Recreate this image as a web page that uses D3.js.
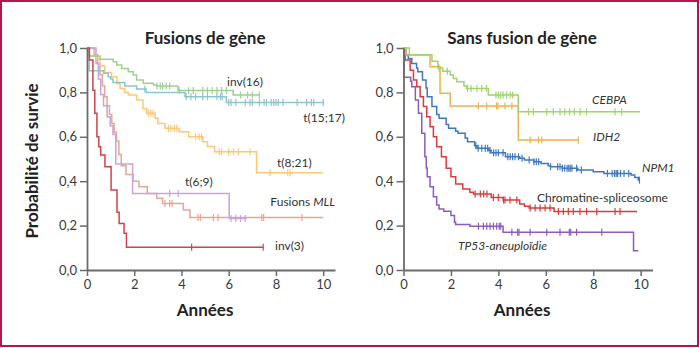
<!DOCTYPE html>
<html><head><meta charset="utf-8">
<script src="https://cdn.jsdelivr.net/npm/d3@7"></script>
<style>body{margin:0;background:#fff}svg{display:block}</style>
</head><body>
<svg id="c" width="700" height="348"></svg>
<script>
// ---------- DATA ----------
const xTicks = [0, 2, 4, 6, 8, 10];
const yTicks = [0, 0.2, 0.4, 0.6, 0.8, 1.0];
const yTickLabels = ["0,0", "0,2", "0,4", "0,6", "0,8", "1,0"];

// Left panel: Fusions de gène  (time in years, survival probability)
const inv16_t = [0, 0.06, 0.55, 1.11, 1.26, 1.47, 1.75, 1.96, 2.10, 2.38, 2.81, 2.95, 3.85, 6.19, 7.32];
const inv16_s = [1.0, 0.964, 0.949, 0.938, 0.923, 0.908, 0.893, 0.878, 0.856, 0.841, 0.833, 0.829, 0.808, 0.788, 0.788];
const inv16_c = [2.96, 3.1, 3.2, 3.35, 3.5, 3.9, 4.3, 4.5, 4.9, 5.1, 5.3, 5.5, 5.7, 5.9, 6.5, 6.8, 7.0, 7.3];

const t1517_t = [0, 0.1, 0.7, 0.9, 1.0, 1.1, 1.6, 2.1, 2.5, 4.15, 5.9, 10.05];
const t1517_s = [1.0, 0.898, 0.886, 0.871, 0.86, 0.845, 0.829, 0.815, 0.80, 0.78, 0.754, 0.754];
const t1517_c = [2.45, 4.2, 4.4, 4.6, 4.9, 5.1, 5.5, 5.65, 5.72, 6.0, 6.1, 6.3, 6.7, 6.9, 7.0, 7.3, 7.5, 7.6, 7.8, 7.9, 8.0, 8.1, 8.3, 8.9, 9.3, 9.5, 9.6, 10.0];

const t821_t = [0, 0.1, 0.4, 0.55, 0.75, 1.04, 1.26, 1.4, 1.6, 1.75, 2.1, 2.37, 2.53, 2.88, 3.0, 3.3, 3.9, 4.3, 4.9, 5.1, 5.4, 7.18, 10.0];
const t821_s = [1.0, 0.964, 0.95, 0.92, 0.89, 0.87, 0.84, 0.818, 0.80, 0.788, 0.766, 0.728, 0.706, 0.683, 0.66, 0.638, 0.623, 0.60, 0.578, 0.556, 0.533, 0.438, 0.438];
const t821_c = [2.6, 2.7, 2.8, 3.45, 3.55, 3.7, 3.8, 4.6, 4.75, 4.85, 5.6, 5.7, 6.0, 6.2, 6.4, 6.9, 7.75, 8.5, 8.6];

const mll_t = [0, 0.3, 0.45, 0.55, 0.65, 0.75, 0.85, 0.95, 1.05, 1.15, 1.25, 1.35, 1.45, 1.65, 1.95, 2.2, 2.55, 2.95, 3.2, 4.08, 4.36, 10.0];
const mll_s = [1.0, 0.97, 0.93, 0.88, 0.83, 0.78, 0.74, 0.70, 0.66, 0.62, 0.58, 0.52, 0.47, 0.43, 0.40, 0.375, 0.345, 0.323, 0.30, 0.27, 0.237, 0.237];
const mll_c = [3.3, 3.5, 3.6, 4.7, 4.8, 5.35, 5.55, 7.4, 7.48, 9.1];

const t69_t = [0, 0.38, 0.48, 0.58, 0.7, 0.85, 0.98, 1.1, 1.22, 1.93, 6.02, 6.76];
const t69_s = [1.0, 0.93, 0.86, 0.79, 0.74, 0.69, 0.65, 0.61, 0.478, 0.345, 0.232, 0.232];
const t69_c = [3.5, 3.86, 6.1, 6.3, 6.5, 6.7];

const inv3_t = [0, 0.1, 0.25, 0.33, 0.42, 0.5, 0.58, 0.76, 1.02, 1.27, 1.36, 1.57, 1.67, 7.46];
const inv3_s = [1.0, 0.946, 0.81, 0.706, 0.60, 0.555, 0.518, 0.465, 0.36, 0.26, 0.21, 0.165, 0.102, 0.102];
const inv3_c = [4.43, 7.46];

// Right panel: Sans fusion de gène
const cebpa_t = [0, 0.25, 1.2, 1.45, 1.65, 1.97, 2.1, 2.25, 2.55, 2.65, 3.58, 4.84, 9.97];
const cebpa_s = [1.0, 0.97, 0.94, 0.91, 0.895, 0.878, 0.863, 0.848, 0.829, 0.818, 0.788, 0.713, 0.713];
const cebpa_c = [1.5, 1.85, 2.7, 2.85, 3.1, 3.3, 3.5, 3.9, 4.0, 4.1, 4.2, 4.35, 4.5, 4.6, 5.27, 5.48, 6.04, 6.32, 6.6, 6.8, 7.0, 7.2, 7.45, 7.72, 8.92, 9.2];

const idh2_t = [0, 0.1, 1.12, 1.54, 1.97, 4.84, 7.37];
const idh2_s = [1.0, 0.968, 0.916, 0.796, 0.739, 0.586, 0.586];
const idh2_c = [3.16, 3.51, 3.92, 3.98, 4.28, 4.57, 5.34, 5.69, 5.83, 7.37];

const npm1_t = [0, 0.1, 0.2, 0.35, 0.55, 0.6, 0.8, 0.95, 1.0, 1.2, 1.4, 1.5, 1.8, 1.9, 2.2, 2.3, 2.6, 2.7, 3.0, 3.1, 3.6, 3.7, 4.3, 4.9, 5.1, 5.5, 5.8, 6.1, 6.2, 6.7, 7.35, 8.0, 8.45, 9.6, 9.75, 9.9, 9.95];
const npm1_s = [1.0, 0.97, 0.953, 0.93, 0.91, 0.893, 0.856, 0.82, 0.78, 0.736, 0.70, 0.683, 0.655, 0.638, 0.625, 0.616, 0.595, 0.578, 0.56, 0.548, 0.538, 0.528, 0.51, 0.503, 0.495, 0.488, 0.48, 0.47, 0.465, 0.458, 0.45, 0.443, 0.435, 0.428, 0.417, 0.405, 0.405];
const npm1_c = [3.05, 3.15, 3.3, 3.45, 3.55, 3.65, 3.8, 3.9, 4.0, 4.2, 4.4, 4.5, 4.6, 4.7, 4.85, 5.0, 5.3, 5.5, 5.6, 5.7, 6.2, 6.5, 6.6, 6.7, 6.8, 6.9, 6.97, 7.03, 7.1, 7.3, 7.5, 8.6, 8.8, 8.9, 8.97, 9.03, 9.15, 9.3, 9.5, 9.95];

const chrom_t = [0, 0.07, 0.28, 0.42, 0.56, 0.7, 0.84, 0.98, 1.12, 1.26, 1.4, 1.6, 1.8, 2.0, 2.2, 2.5, 2.8, 2.95, 3.7, 4.2, 4.9, 5.1, 5.3, 6.35, 9.85];
const chrom_s = [1.0, 0.946, 0.90, 0.856, 0.826, 0.78, 0.736, 0.69, 0.645, 0.60, 0.555, 0.51, 0.458, 0.42, 0.387, 0.365, 0.35, 0.342, 0.327, 0.315, 0.297, 0.287, 0.279, 0.264, 0.264];
const chrom_c = [3.02, 3.24, 3.38, 3.52, 3.79, 4.0, 4.22, 4.28, 4.49, 4.78, 5.34, 5.55, 5.76, 5.97, 6.18, 6.53, 6.74, 6.95, 7.16, 7.44, 7.72, 8.15, 8.92, 9.13];

const tp53_t = [0, 0.02, 0.3, 0.35, 0.5, 0.63, 0.77, 0.9, 0.96, 1.0, 1.12, 1.26, 1.4, 1.5, 1.7, 2.0, 2.15, 2.2, 2.8, 4.2, 9.7, 9.9];
const tp53_s = [1.0, 0.868, 0.85, 0.826, 0.766, 0.706, 0.616, 0.51, 0.46, 0.42, 0.375, 0.33, 0.293, 0.275, 0.265, 0.245, 0.215, 0.205, 0.197, 0.17, 0.087, 0.087];
const tp53_c = [3.16, 3.37, 3.51, 3.65, 3.79, 3.93, 4.04, 4.1, 4.57, 4.81, 4.87, 5.34, 6.04, 6.6, 6.99, 7.05, 7.3, 8.36];

// ---------- DRAW ----------
const svg = d3.select("#c");
const FONT = "Lato, 'Open Sans', sans-serif";
svg.append("rect").attr("x", 1).attr("y", 1).attr("width", 697).attr("height", 345)
  .attr("fill", "#fff").attr("stroke", "#b2174b").attr("stroke-width", 2);

const y = d3.scaleLinear().domain([0, 1]).range([270, 48]);

function panel(x0, x1, title, series, labels) {
  const x = d3.scaleLinear().domain([0, 10.5]).range([x0, x1]);
  const g = svg.append("g");
  const line = d3.line().x(d => x(d[0])).y(d => y(d[1])).curve(d3.curveStepAfter);
  series.forEach(s => {
    const pts = s.t.map((t, i) => [t, s.s[i]]);
    g.append("path").attr("d", line(pts)).attr("fill", "none")
      .attr("stroke", s.color).attr("stroke-width", 1.5);
    const survAt = t => { let v = s.s[0]; for (let i = 0; i < s.t.length; i++) if (s.t[i] <= t) v = s.s[i]; return v; };
    g.selectAll(null).data(s.c).enter().append("line")
      .attr("x1", d => x(d)).attr("x2", d => x(d))
      .attr("y1", d => y(survAt(d)) - 3.5).attr("y2", d => y(survAt(d)) + 3.5)
      .attr("stroke", s.color).attr("stroke-width", 1.2);
  });
  const ax = svg.append("g").attr("font-family", FONT);
  const ya = d3.axisLeft(y).tickValues(yTicks).tickFormat((d, i) => yTickLabels[i]).tickSize(7).tickSizeOuter(0);
  const yg = ax.append("g").attr("transform", `translate(${x0},0)`).call(ya);
  const xa = d3.axisBottom(x).tickValues(xTicks).tickSize(6).tickSizeOuter(0);
  const xg = ax.append("g").attr("transform", `translate(0,270)`).call(xa);
  [yg, xg].forEach(a => {
    a.select(".domain").attr("stroke", "#6b6b6b").attr("stroke-width", 1.8);
    a.selectAll(".tick line").attr("stroke", "#6b6b6b").attr("stroke-width", 1.5);
    a.selectAll(".tick text").attr("fill", "#3a3a3a").attr("font-size", 13).attr("font-family", FONT);
  });
  yg.selectAll(".tick text").attr("x", -10);
  xg.selectAll(".tick text").attr("y", 10);
  svg.append("text").attr("x", x(5)).attr("y", 44).attr("text-anchor", "middle")
    .attr("font-family", FONT).attr("font-weight", "bold").attr("font-size", 17).attr("fill", "#222").text(title);
  svg.append("text").attr("x", x(5)).attr("y", 316).attr("text-anchor", "middle")
    .attr("font-family", FONT).attr("font-weight", "bold").attr("font-size", 17).attr("fill", "#222").text("Années");
  labels.forEach(l => {
    const t = svg.append("text").attr("x", l.x).attr("y", l.y).attr("text-anchor", l.anchor || "start")
      .attr("font-family", FONT).attr("font-size", 12).attr("fill", "#333");
    l.parts.forEach(p => t.append("tspan").attr("font-style", p[1] ? "italic" : "normal").text(p[0]));
  });
}

panel(87, 335, "Fusions de gène", [
  { t: mll_t, s: mll_s, c: mll_c, color: "#e2a795" },
  { t: t69_t, s: t69_s, c: t69_c, color: "#c9a3da" },
  { t: t821_t, s: t821_s, c: t821_c, color: "#fcc877" },
  { t: t1517_t, s: t1517_s, c: t1517_c, color: "#8cc5cb" },
  { t: inv16_t, s: inv16_s, c: inv16_c, color: "#9fd092" },
  { t: inv3_t, s: inv3_s, c: inv3_c, color: "#d0424a" }
], [
  { x: 227, y: 86, parts: [["inv(16)", false]] },
  { x: 345, y: 122, anchor: "end", parts: [["t(15;17)", false]] },
  { x: 277, y: 167, parts: [["t(8;21)", false]] },
  { x: 185, y: 186, parts: [["t(6;9)", false]] },
  { x: 335, y: 206, anchor: "end", parts: [["Fusions ", false], ["MLL", true]] },
  { x: 275, y: 250, parts: [["inv(3)", false]] }
]);

panel(403.5, 652.5, "Sans fusion de gène", [
  { t: tp53_t, s: tp53_s, c: tp53_c, color: "#8b5cbe" },
  { t: chrom_t, s: chrom_s, c: chrom_c, color: "#d83c3c" },
  { t: npm1_t, s: npm1_s, c: npm1_c, color: "#3f78c1" },
  { t: idh2_t, s: idh2_s, c: idh2_c, color: "#f1b04c" },
  { t: cebpa_t, s: cebpa_s, c: cebpa_c, color: "#a0d46c" }
], [
  { x: 592, y: 104, parts: [["CEBPA", true]] },
  { x: 593, y: 141, parts: [["IDH2", true]] },
  { x: 642, y: 172, parts: [["NPM1", true]] },
  { x: 537, y: 202, parts: [["Chromatine-spliceosome", false]] },
  { x: 458, y: 250, parts: [["TP53-aneuploïdie", true]] }
]);

svg.append("text").attr("transform", "translate(38,161) rotate(-90)").attr("text-anchor", "middle")
  .attr("font-family", FONT).attr("font-weight", "bold").attr("font-size", 17).attr("fill", "#222")
  .text("Probabilité de survie");
</script>
</body></html>
